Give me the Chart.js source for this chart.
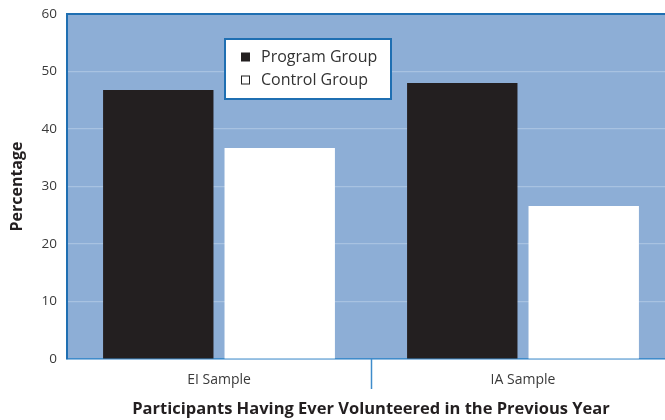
<!DOCTYPE html>
<html>
<head>
<meta charset="utf-8">
<script src="https://cdn.jsdelivr.net/npm/chart.js@4/dist/chart.umd.min.js"></script>
<style>
  html, body { margin: 0; padding: 0; background: #ffffff; overflow: hidden; }
  #wrap { position: relative; width: 675px; height: 420px; }
</style>
</head>
<body>
<div id="wrap"><canvas id="chart"></canvas></div>
<script>
// Share of participants who volunteered in the previous year, by sample
const categories = ['EI Sample', 'IA Sample'];
const programGroup = [46.8, 48.0];
const controlGroup = [36.7, 26.6];
const seriesLabels = ['Program Group', 'Control Group'];
const yTicks = [0, 10, 20, 30, 40, 50, 60];

const FONT = '"Open Sans", "DejaVu Sans", sans-serif';
const PLOT_BG = '#8daed6';
const AXIS_DARK = '#1f6fb2';
const AXIS_LIGHT = '#3f8ccb';
const GRID = '#a8c2e1';
const BAR_DARK = '#231f20';

// Plot background, top border, category divider and the boxed legend
const decorations = {
  id: 'decorations',
  beforeDraw(chart) {
    const { ctx, chartArea: a } = chart;
    ctx.save();
    ctx.fillStyle = PLOT_BG;
    ctx.fillRect(a.left, a.top, a.right - a.left, a.bottom - a.top);
    ctx.restore();
  },
  afterDraw(chart) {
    const { ctx, chartArea: a, scales } = chart;
    ctx.save();
    // top border
    ctx.strokeStyle = AXIS_DARK;
    ctx.lineWidth = 2;
    ctx.beginPath();
    ctx.moveTo(a.left - 1, a.top);
    ctx.lineTo(a.right, a.top);
    ctx.stroke();
    // divider tick between categories
    const x = scales.x;
    const mid = Math.round((x.getPixelForValue(0) + x.getPixelForValue(1)) / 2) + 0.5;
    ctx.strokeStyle = AXIS_LIGHT;
    ctx.lineWidth = 1.5;
    ctx.beginPath();
    ctx.moveTo(mid, a.bottom);
    ctx.lineTo(mid, a.bottom + 30);
    ctx.stroke();

    // legend
    const bx = a.left + 158, by = a.top + 25, bw = 166, bh = 60;
    ctx.fillStyle = '#ffffff';
    ctx.fillRect(bx, by, bw, bh);
    ctx.strokeStyle = AXIS_DARK;
    ctx.lineWidth = 2;
    ctx.strokeRect(bx, by, bw, bh);
    ctx.font = '16px ' + FONT;
    ctx.textBaseline = 'middle';
    chart.data.datasets.forEach((ds, i) => {
      const cy = by + 18 + i * 23;
      const mx = bx + 16;
      if (i === 0) {
        ctx.fillStyle = BAR_DARK;
        ctx.fillRect(mx, cy - 4.5, 9, 9);
      } else {
        ctx.strokeStyle = '#222222';
        ctx.lineWidth = 1;
        ctx.strokeRect(mx + 0.5, cy - 4, 8, 8);
      }
      ctx.fillStyle = '#333333';
      ctx.fillText(ds.label, mx + 20, cy);
    });
    ctx.restore();
  }
};

new Chart(document.getElementById('chart'), {
  type: 'bar',
  data: {
    labels: categories,
    datasets: [
      { label: seriesLabels[0], data: programGroup, backgroundColor: BAR_DARK },
      { label: seriesLabels[1], data: controlGroup, backgroundColor: '#ffffff' }
    ]
  },
  options: {
    responsive: true,
    maintainAspectRatio: false,
    animation: false,
    categoryPercentage: 0.799,
    barPercentage: 0.909,
    layout: { padding: { left: 0, right: 0, top: 14, bottom: 0 } },
    plugins: { legend: { display: false }, tooltip: { enabled: false } },
    scales: {
      x: {
        offset: true,
        grid: { display: false, drawTicks: false },
        border: { display: true, color: AXIS_LIGHT, width: 1.5 },
        ticks: { color: '#3a3a3a', font: { family: FONT, size: 14 }, padding: 13 },
        title: {
          display: true,
          text: 'Participants Having Ever Volunteered in the Previous Year',
          color: '#231f20',
          font: { family: FONT, size: 16.5, weight: 'bold' },
          padding: { top: 0, bottom: 1 }
        },
        afterFit(scale) {
          scale.height = 61;
          scale.paddingLeft = 0;
          scale.paddingRight = 0;
        }
      },
      y: {
        min: 0,
        max: 60,
        afterBuildTicks(scale) { scale.ticks = yTicks.map(v => ({ value: v })); },
        grid: { color: GRID, lineWidth: 1.2, drawTicks: false },
        border: { display: true, color: AXIS_DARK, width: 2 },
        ticks: { color: '#3a3a3a', font: { family: FONT, size: 13.5 }, padding: 10 },
        title: {
          display: true,
          text: 'Percentage',
          color: '#231f20',
          font: { family: FONT, size: 16, weight: 'bold' },
          padding: { top: 8, bottom: 0 }
        },
        afterFit(scale) {
          scale.width = 67;
          scale.paddingTop = 0;
          scale.paddingBottom = 0;
        }
      }
    }
  },
  plugins: [decorations]
});
</script>
</body>
</html>
